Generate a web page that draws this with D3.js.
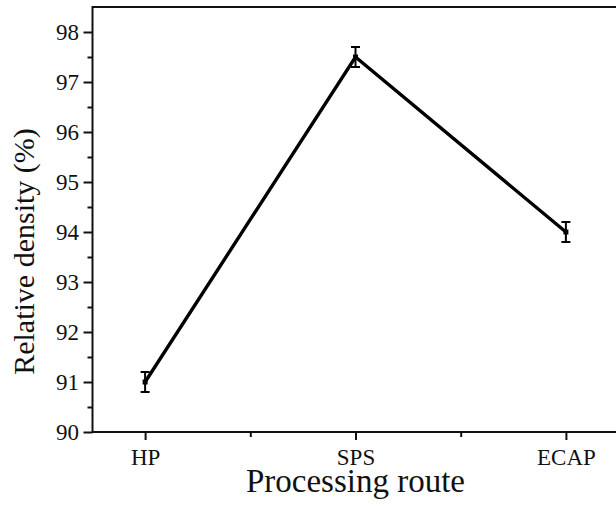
<!DOCTYPE html>
<html><head><meta charset="utf-8">
<script src="https://cdn.jsdelivr.net/npm/d3@7"></script>
<style>body{margin:0;background:#fff}svg{display:block}</style>
</head><body>
<svg id="c" width="616" height="506"></svg>
<script>
const categories = ["HP", "SPS", "ECAP"];
const values = [91.0, 97.5, 94.0];
const errors = [0.2, 0.2, 0.2];
const yTicks = [90, 91, 92, 93, 94, 95, 96, 97, 98];
const yMinor = [90.5, 91.5, 92.5, 93.5, 94.5, 95.5, 96.5, 97.5];
const xMinor = [0.5, 1.5];

const svg = d3.select("#c");
const L = 92.5, T = 7, B = 432, R = 618.5;
const x = d3.scaleLinear().domain([-0.25, 2.25]).range([L, R]);
const y = d3.scaleLinear().domain([90, 98.5]).range([B, T]);
const font = "'Liberation Serif','Times New Roman',serif";

// frame
svg.append("rect").attr("x", L).attr("y", T).attr("width", R - L).attr("height", B - T)
  .attr("fill", "none").attr("stroke", "#111").attr("stroke-width", 2);

// y axis
const ya = svg.append("g").attr("transform", `translate(${L},0)`)
  .call(d3.axisLeft(y).tickValues(yTicks).tickFormat(d3.format("d")).tickSize(9).tickPadding(4.5));
ya.select(".domain").remove();
ya.selectAll("line").attr("stroke", "#111").attr("stroke-width", 2);
ya.selectAll("text").attr("font-family", font).attr("font-size", 23).attr("fill", "#111");
const yb = svg.append("g").attr("transform", `translate(${L},0)`)
  .call(d3.axisLeft(y).tickValues(yMinor).tickFormat("").tickSize(5));
yb.select(".domain").remove();
yb.selectAll("line").attr("stroke", "#111").attr("stroke-width", 2);

// x axis
const xa = svg.append("g").attr("transform", `translate(0,${B})`)
  .call(d3.axisBottom(x).tickValues([0, 1, 2]).tickFormat(i => categories[i]).tickSize(8));
xa.select(".domain").remove();
xa.selectAll("line").attr("stroke", "#111").attr("stroke-width", 2);
xa.selectAll("text").attr("font-family", font).attr("font-size", 23).attr("fill", "#111")
  .attr("y", 33).attr("dy", 0);
const xb = svg.append("g").attr("transform", `translate(0,${B})`)
  .call(d3.axisBottom(x).tickValues(xMinor).tickFormat("").tickSize(5));
xb.select(".domain").remove();
xb.selectAll("line").attr("stroke", "#111").attr("stroke-width", 2);

// line
const pts = values.map((v, i) => [x(i), y(v)]);
svg.append("path").attr("d", d3.line()(pts)).attr("fill", "none")
  .attr("stroke", "#000").attr("stroke-width", 3.4).attr("stroke-linejoin", "miter");

// error bars
const eb = svg.append("g").attr("stroke", "#000").attr("stroke-width", 2);
values.forEach((v, i) => {
  const cx = x(i);
  eb.append("line").attr("x1", cx).attr("x2", cx).attr("y1", y(v - errors[i])).attr("y2", y(v + errors[i]));
  [v - errors[i], v + errors[i]].forEach(e => {
    eb.append("line").attr("x1", cx - 4.5).attr("x2", cx + 4.5).attr("y1", y(e)).attr("y2", y(e));
  });
});
// markers
svg.append("g").selectAll("rect").data(values).join("rect")
  .attr("x", (d, i) => x(i) - 2.5).attr("y", d => y(d) - 2.5)
  .attr("width", 5).attr("height", 5).attr("fill", "#000");

// titles
svg.append("text").attr("x", x(1)).attr("y", 492)
  .attr("text-anchor", "middle").attr("font-family", font).attr("font-size", 33).attr("fill", "#111")
  .text("Processing route");
svg.append("text").attr("transform", `translate(34,251.5) rotate(-90)`)
  .attr("text-anchor", "middle").attr("font-family", font).attr("font-size", 30).attr("fill", "#111")
  .text("Relative density (%)");
</script>
</body></html>
